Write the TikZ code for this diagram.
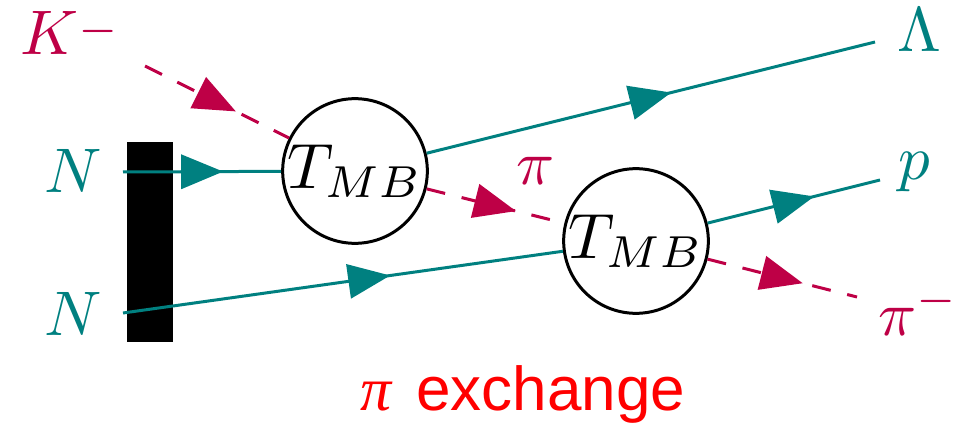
\documentclass[tikz,border=0pt]{standalone}
\usepackage{graphicx}
\usepackage{fontspec}
\usetikzlibrary{decorations.markings}
\newfontfamily\arialfont{Liberation Sans}
\newfontfamily\timesfont{Liberation Serif}
\definecolor{crim}{RGB}{190,0,70}
\definecolor{tealc}{RGB}{0,128,128}
\newcommand{\labmath}[1]{\scalebox{6.3}{$#1$}}
\tikzset{
  fermion/.style={color=tealc, line width=3pt},
  scalar/.style={color=crim, line width=3pt, dash pattern=on 19pt off 17pt},
  arr/.style={postaction={decorate,decoration={markings,
      mark=at position #1 with {\fill (21pt,0pt) -- (-21pt,17.5pt) -- (-21pt,-17.5pt) -- cycle;}}}},
  blob/.style={circle, draw=black, line width=3pt, fill=white, minimum size=140pt,
      inner sep=0pt},
  lab/.style={inner sep=0pt, anchor=base west},
}
\begin{document}
\begin{tikzpicture}[x=1pt,y=-1pt]
\useasboundingbox (0,0) rectangle (959,425);
% wall
\node[fill=black, minimum width=46pt, minimum height=200pt, inner sep=0pt] (bar) at (150,242) {};
% vertices
\node[blob] (t1) at (355,171) {\scalebox{6.4}{$T_{MB}$}};
\node[blob] (t2) at (636,241) {\scalebox{6.4}{$T_{MB}$}};
% free ends
\coordinate (k) at (145,66);
\coordinate (n1) at (123,172);
\coordinate (n2) at (123,313);
\coordinate (lam) at (875,42);
\coordinate (pe) at (880,180);
\coordinate (pim) at (857,297);
% lines
\draw[scalar, arr=0.5] (k) -- (t1);
\draw[fermion, arr=0.5] (n1) -- (t1);
\draw[fermion, arr=0.56] (n2) -- (t2);
\draw[fermion, arr=0.5] (t1) -- (lam);
\draw[scalar, arr=0.5] (t1) -- (t2);
\draw[fermion, arr=0.5] (t2) -- (pe);
\draw[scalar, arr=0.5] (t2) -- (pim);
% labels
\node[lab, text=crim] (lk) at (20,55) {\labmath{K^{\raisebox{-1.9pt}{$\scriptstyle -$}}}};
\node[lab, text=tealc] (ln1) at (44,193) {\labmath{N}};
\node[lab, text=tealc] (ln2) at (44,335) {\labmath{N}};
\node[lab, text=tealc] (llam) at (897,52) {\labmath{\Lambda}};
\node[lab, text=tealc] (lp) at (898,180) {\labmath{p}};
\node[lab, text=crim] (lpim) at (878,335) {\labmath{\pi^-}};
\node[lab, text=crim] (lpi) at (516,185) {\labmath{\pi}};
% caption
\node[inner sep=0pt, anchor=base, text=red, font=\fontsize{62}{70}\selectfont] (cap) at (523,410)
  {{\timesfont\itshape π}\hspace{0.4em}{\arialfont exchange}};
\end{tikzpicture}
\end{document}
